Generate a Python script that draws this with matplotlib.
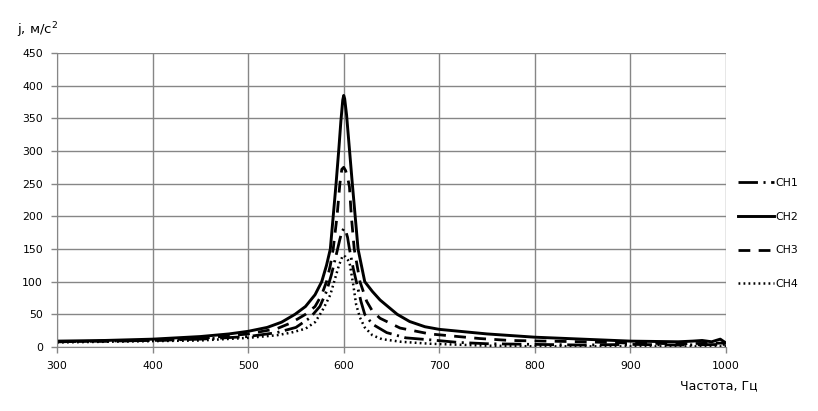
import matplotlib
matplotlib.use("Agg")
import matplotlib.pyplot as plt

# values (Hz, m/s^2)
f_ch1 = [300, 350, 400, 450, 500, 530, 550, 565, 575, 582, 587, 592, 596, 598, 600,
         602, 604, 606, 610, 614, 618, 622, 630, 645, 665, 690, 720, 750, 800, 850,
         900, 950, 1000]
j_ch1 = [8, 9, 10, 12, 16, 22, 30, 45, 62, 85, 110, 140, 165, 176, 181,
         178, 168, 150, 120, 95, 70, 50, 35, 22, 14, 11, 7, 5, 4, 3,
         4, 3, 4]

f_ch2 = [300, 350, 400, 450, 480, 500, 520, 535, 549, 560, 570, 577, 582, 586, 589,
         592, 595, 597, 599, 600, 601, 603, 605, 607, 609, 612, 615, 622, 630, 638,
         656, 669, 685, 700, 750, 800, 850, 900, 950, 965, 975, 985, 994, 1000]
j_ch2 = [9, 10, 12, 16, 20, 24, 30, 38, 50, 62, 80, 100, 125, 150, 200,
         250, 305, 345, 378, 385, 380, 355, 320, 285, 250, 200, 150, 100, 85, 72,
         50, 39, 31, 27, 20, 15, 12, 9, 8, 9, 10, 8, 12, 6]

f_ch3 = [300, 350, 400, 450, 500, 530, 545, 560, 570, 577, 582, 586, 589, 593, 596,
         598, 600, 602, 604, 606, 608, 611, 617, 624, 630, 638, 659, 690, 742, 774,
         850, 900, 950, 1000]
j_ch3 = [8, 9, 10, 13, 20, 28, 37, 50, 62, 80, 100, 125, 150, 200, 250,
         272, 275, 270, 260, 245, 200, 150, 100, 70, 55, 44, 29, 20, 13, 10,
         8, 6, 5, 6]

f_ch4 = [300, 350, 400, 450, 500, 530, 545, 560, 570, 577, 582, 586, 591, 595, 599,
         602, 606, 610, 613, 617, 622, 630, 640, 660, 690, 750, 800, 900, 1000]
j_ch4 = [7, 8, 9, 10, 14, 18, 22, 28, 38, 54, 68, 80, 105, 125, 140,
         138, 130, 95, 65, 45, 30, 18, 12, 8, 5, 2, 1, 1, 1]

x_ticks = [300, 400, 500, 600, 700, 800, 900, 1000]
y_ticks = [0, 50, 100, 150, 200, 250, 300, 350, 400, 450]

plt.rcParams["font.family"] = ["DejaVu Sans"]
plt.rcParams["lines.scale_dashes"] = False

fig = plt.figure(figsize=(8.18, 4.11), dpi=100)
ax = fig.add_axes([57 / 818, 1 - 347 / 411, (726 - 57) / 818, (347 - 53) / 411])

ax.plot(f_ch1, j_ch1, color="black", lw=2.0, ls=(0, (14, 4, 1.5, 4)), label="CH1")
ax.plot(f_ch2, j_ch2, color="black", lw=2.1, ls="-", label="CH2")
ax.plot(f_ch3, j_ch3, color="black", lw=2.0, ls=(0, (8.5, 6)), label="CH3")
ax.plot(f_ch4, j_ch4, color="black", lw=1.8, ls=(0, (1.3, 2.3)), label="CH4")

ax.set_xlim(300, 1000)
ax.set_ylim(0, 450)
ax.set_xticks(x_ticks)
ax.set_yticks(y_ticks)
ax.grid(True, color="#868686", lw=1.0)
ax.set_axisbelow(True)
for s in ["top", "right"]:
    ax.spines[s].set_visible(False)
for s in ["left", "bottom"]:
    ax.spines[s].set_color("#868686")
ax.tick_params(colors="#868686", length=4, width=1.0, labelsize=7.8, labelcolor="black", pad=6)

fig.text(17 / 818, 1 - 30 / 411, r"j, м/с$^{2}$", fontsize=9.5, va="center", ha="left")
fig.text(758 / 818, 1 - 386 / 411, "Частота, Гц", fontsize=9, va="center", ha="right")

fig.legend(loc="upper left", bbox_to_anchor=(728 / 818, 1 - 168 / 411), frameon=False,
           fontsize=7.8, handlelength=3.3, handletextpad=0.2, labelspacing=2.2)

fig.savefig("out.png", dpi=100)
